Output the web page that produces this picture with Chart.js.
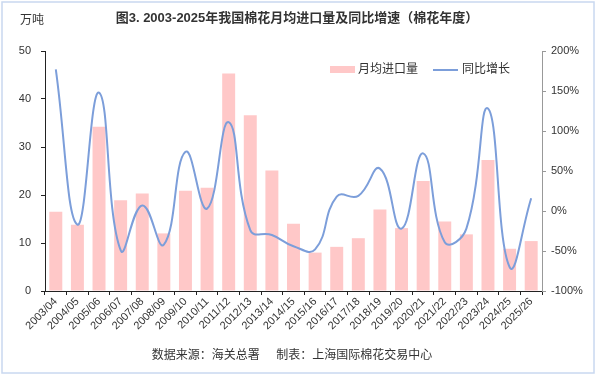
<!DOCTYPE html>
<html>
<head>
<meta charset="utf-8">
<script src="https://cdn.jsdelivr.net/npm/chart.js@4.4.1/dist/chart.umd.min.js"></script>
<style>
  html, body { margin: 0; padding: 0; background: #fff; }
  #wrap { width: 600px; height: 380px; position: relative; }
</style>
</head>
<body>
<div id="wrap"><canvas id="chart" width="600" height="380"></canvas></div>
<script>
// Cotton seasons
const seasons = [
  "2003/04", "2004/05", "2005/06", "2006/07", "2007/08", "2008/09", "2009/10", "2010/11",
  "2011/12", "2012/13", "2013/14", "2014/15", "2015/16", "2016/17", "2017/18", "2018/19",
  "2019/20", "2020/21", "2021/22", "2022/23", "2023/24", "2024/25", "2025/26"
]

// Monthly average imports (10k tonnes)
const monthlyImports = [
  16.5, 13.8, 34.2, 18.9, 20.3, 12.0, 20.9, 21.5,
  45.3, 36.6, 25.1, 14.0, 8.0, 9.2, 11.0, 17.0,
  13.1, 22.9, 14.5, 11.8, 27.3, 8.8, 10.4
]

// Year-on-year growth (%)
const yoyGrowth = [
  177, -17, 148, -49, 7, -42, 74, 3,
  111, -24, -30, -44, -48, 18, 19, 53,
  -22, 72, -39, -22, 128, -70, 16
]

const leftTicks = [0, 10, 20, 30, 40, 50]
const rightTicks = [-100, -50, 0, 50, 100, 150, 200]

const barColor = "#FFC8C8"
const lineColor = "#7C9EDA"
const textColor = "#333333"
const cnFont = "'Liberation Sans', 'Noto Sans CJK SC', sans-serif"

// Title, unit, legend, footer and frame
const decorations = {
  id: "decorations",
  afterDraw(chart) {
    const ctx = chart.ctx
    ctx.save()

    ctx.strokeStyle = "#C9D8F0"
    ctx.lineWidth = 1.5
    ctx.strokeRect(2, 2, 592, 371)

    ctx.fillStyle = textColor
    ctx.textBaseline = "middle"

    ctx.font = "bold 13px " + cnFont
    ctx.textAlign = "center"
    ctx.fillText("图3. 2003-2025年我国棉花月均进口量及同比增速（棉花年度）", 297, 18)

    ctx.font = "12px " + cnFont
    ctx.textAlign = "left"
    ctx.fillText("万吨", 20, 21)

    ctx.textAlign = "center"
    ctx.fillText("数据来源：海关总署     制表：上海国际棉花交易中心", 292, 356)

    // legend
    ctx.textAlign = "left"
    ctx.fillStyle = barColor
    ctx.fillRect(330, 66, 25, 7)
    ctx.fillStyle = textColor
    ctx.fillText("月均进口量", 358, 70)

    ctx.strokeStyle = lineColor
    ctx.lineWidth = 2
    ctx.beginPath()
    ctx.moveTo(433, 70)
    ctx.lineTo(458, 70)
    ctx.stroke()
    ctx.fillText("同比增长", 462, 70)

    ctx.restore()
  }
}

const ctx = document.getElementById("chart").getContext("2d")

new Chart(ctx, {
  type: "bar",
  data: {
    labels: seasons,
    datasets: [
      {
        type: "line",
        label: "同比增长",
        data: yoyGrowth,
        yAxisID: "yRight",
        borderColor: lineColor,
        borderWidth: 2,
        pointRadius: 0,
        tension: 0.45,
        fill: false,
        order: 0,
      },
      {
        type: "bar",
        label: "月均进口量",
        data: monthlyImports,
        yAxisID: "yLeft",
        backgroundColor: barColor,
        barPercentage: 0.6,
        categoryPercentage: 1,
        order: 1,
      },
    ],
  },
  options: {
    responsive: false,
    animation: false,
    layout: { padding: { top: 51, left: 0, right: 0, bottom: 0 } },
    plugins: {
      legend: { display: false },
      tooltip: { enabled: false },
    },
    scales: {
      x: {
        offset: true,
        afterFit(scale) { scale.height = 89 },
        grid: {
          offset: true,
          drawOnChartArea: false,
          tickLength: 4,
          color: "#222",
        },
        border: { color: "#222", width: 1 },
        ticks: {
          color: textColor,
          font: { size: 11, family: cnFont },
          minRotation: 45,
          maxRotation: 45,
          padding: 0,
          autoSkip: false,
        },
      },
      yLeft: {
        position: "left",
        min: 0,
        max: 50,
        afterFit(scale) { scale.width = 45 },
        afterBuildTicks(scale) { scale.ticks = leftTicks.map((v) => ({ value: v })) },
        grid: { drawOnChartArea: false, tickLength: 4, color: "#222" },
        border: { color: "#222", width: 1 },
        ticks: {
          color: textColor,
          font: { size: 11, family: cnFont },
          padding: 10,
        },
      },
      yRight: {
        position: "right",
        min: -100,
        max: 200,
        afterFit(scale) { scale.width = 58 },
        afterBuildTicks(scale) { scale.ticks = rightTicks.map((v) => ({ value: v })) },
        grid: { drawOnChartArea: false, tickLength: 4, color: "#999" },
        border: { color: "#999", width: 1 },
        ticks: {
          color: textColor,
          font: { size: 11, family: cnFont },
          padding: 5,
          callback: (v) => v + "%",
        },
      },
    },
  },
  plugins: [decorations],
})
</script>
</body>
</html>
